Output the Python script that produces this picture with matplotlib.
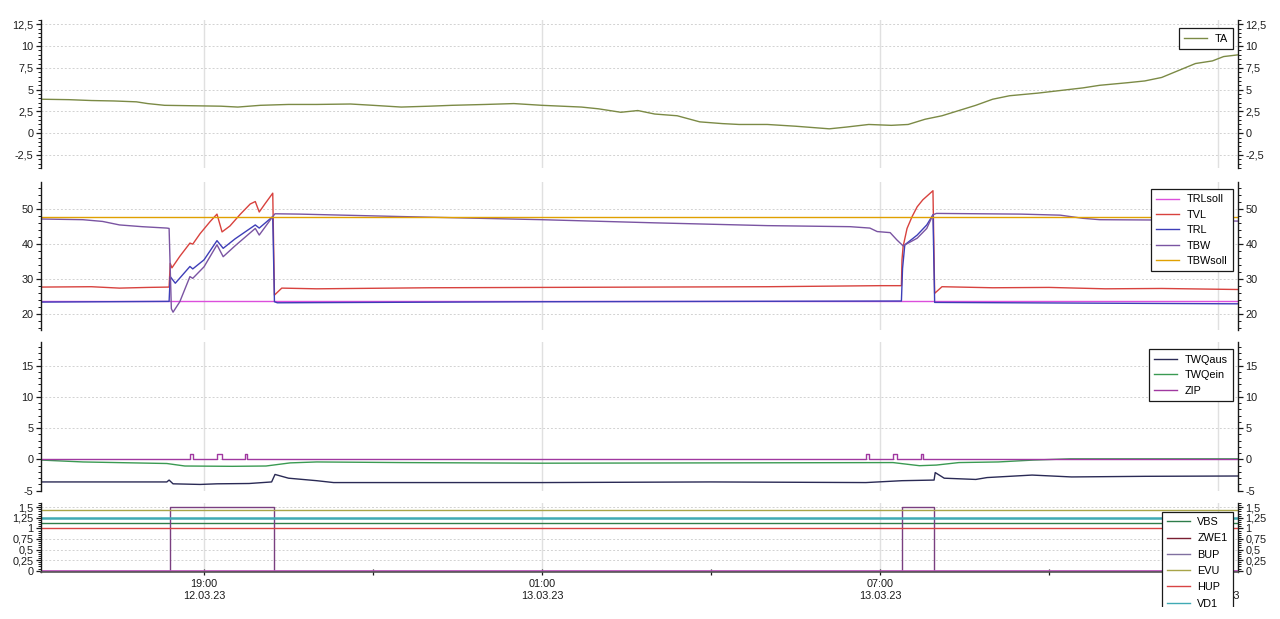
import numpy as np
import matplotlib
matplotlib.use('Agg')
import matplotlib.pyplot as plt
import matplotlib.dates as mdates
from matplotlib.ticker import MultipleLocator, FuncFormatter
from matplotlib.transforms import Bbox, TransformedBbox
from datetime import datetime

plt.rcParams['font.family'] = ['Liberation Sans', 'DejaVu Sans']
plt.rcParams['font.size'] = 7.8

# ---------------- data (time = hours since 12.03.23 00:00) ----------------
X_START, X_END = 16.106, 37.355

ta_t = [16.11, 16.6, 17.0, 17.4, 17.8, 18.0, 18.3, 18.8, 19.3, 19.6, 20.0, 20.5, 21.0, 21.6,
        22.0, 22.5, 23.0, 23.4, 24.0, 24.5, 25.0, 25.7, 26.0, 26.4, 26.7, 27.0, 27.4, 27.8,
        28.2, 28.5, 29.0, 29.5, 29.9, 30.1, 30.4, 30.8, 31.2, 31.5, 31.8, 32.1, 32.4, 32.7,
        33.0, 33.3, 33.8, 34.2, 34.6, 34.9, 35.4, 35.7, 36.0, 36.3, 36.6, 36.9, 37.1, 37.36]
ta_v = [3.9, 3.85, 3.75, 3.7, 3.6, 3.4, 3.2, 3.15, 3.1, 3.0, 3.2, 3.3, 3.3, 3.35,
        3.2, 3.0, 3.1, 3.2, 3.3, 3.4, 3.2, 3.0, 2.8, 2.4, 2.6, 2.2, 2.0, 1.3,
        1.1, 1.0, 1.0, 0.8, 0.6, 0.5, 0.7, 1.0, 0.9, 1.0, 1.6, 2.0, 2.6, 3.2,
        3.9, 4.3, 4.6, 4.9, 5.2, 5.5, 5.8, 6.0, 6.4, 7.2, 8.0, 8.3, 8.8, 9.0]

trlsoll_t = [16.11, 37.36]
trlsoll_v = [23.8, 23.8]
tbwsoll_t = [16.11, 37.36]
tbwsoll_v = [47.9, 47.9]

tvl_t = [16.11, 17.0, 17.5, 18.0, 18.38, 18.40, 18.43, 18.57, 18.75, 18.80, 18.93, 19.11, 19.23,
         19.32, 19.46, 19.64, 19.82, 19.91, 19.98, 20.08, 20.22, 20.25, 20.38, 21.0, 23.0, 25.0,
         27.0, 29.0, 31.0, 31.38, 31.39, 31.41, 31.48, 31.57, 31.66, 31.76, 31.94, 31.97, 32.10,
         33.0, 34.0, 35.0, 36.0, 37.36]
tvl_v = [27.7, 27.8, 27.4, 27.6, 27.7, 34.5, 33.2, 36.5, 40.3, 40.0, 43.0, 46.5, 48.6,
         43.5, 45.2, 48.5, 51.5, 52.2, 49.2, 51.5, 54.6, 25.4, 27.4, 27.2, 27.5, 27.6,
         27.7, 27.8, 28.1, 28.1, 35.5, 39.3, 44.5, 47.9, 50.7, 52.7, 55.3, 25.9, 27.8,
         27.5, 27.6, 27.2, 27.3, 27.0]

trl_t = [16.11, 18.38, 18.40, 18.49, 18.75, 18.80, 19.0, 19.23, 19.34, 19.55, 19.91, 19.98, 20.22,
         20.25, 20.30, 25.0, 31.38, 31.40, 31.44, 31.66, 31.83, 31.94, 31.97, 37.36]
trl_v = [23.4, 23.6, 30.7, 28.8, 33.6, 32.9, 35.5, 41.0, 38.8, 41.5, 45.5, 44.6, 47.9,
         23.5, 23.2, 23.5, 23.7, 33.0, 39.8, 42.6, 45.5, 48.4, 23.3, 22.9]

tbw_t = [16.11, 16.85, 17.2, 17.5, 17.9, 18.34, 18.38, 18.42, 18.45, 18.57, 18.75, 18.80, 19.0,
         19.23, 19.34, 19.55, 19.91, 19.98, 20.22, 20.26, 20.7, 22.5, 25.0, 27.0, 29.0, 30.47,
         30.82, 30.95, 31.18, 31.30, 31.41, 31.66, 31.83, 31.94, 32.0, 33.5, 34.2, 34.6, 34.9,
         36.0, 37.36]
tbw_v = [47.2, 47.0, 46.5, 45.5, 45.0, 44.6, 44.5, 21.5, 20.5, 23.5, 30.7, 30.2, 33.5,
         39.8, 36.4, 39.5, 44.5, 42.6, 47.9, 48.7, 48.6, 47.9, 47.0, 46.1, 45.3, 45.0,
         44.6, 43.6, 43.3, 41.2, 39.5, 41.7, 44.5, 48.4, 48.8, 48.6, 48.3, 47.4, 47.0,
         46.9, 46.6]

twqaus_t = [16.11, 18.34, 18.38, 18.45, 18.93, 19.23, 19.8, 20.2, 20.26, 20.5, 21.0, 21.3, 25.0,
            28.0, 30.75, 31.39, 31.96, 31.98, 32.14, 32.7, 32.9, 33.7, 34.4, 35.7, 37.36]
twqaus_v = [-3.6, -3.6, -3.3, -3.9, -4.0, -3.9, -3.85, -3.6, -2.4, -3.0, -3.4, -3.7, -3.7,
            -3.6, -3.7, -3.4, -3.3, -2.1, -3.0, -3.2, -2.9, -2.5, -2.8, -2.7, -2.65]

twqein_t = [16.11, 16.85, 18.34, 18.66, 19.5, 20.1, 20.53, 21.0, 22.5, 25.0, 28.0, 31.23, 31.7,
            32.0, 32.4, 33.1, 33.72, 34.37, 37.36]
twqein_v = [-0.1, -0.4, -0.65, -1.05, -1.1, -1.05, -0.55, -0.4, -0.5, -0.6, -0.55, -0.5, -1.0,
            -0.9, -0.5, -0.4, -0.1, 0.1, 0.1]

zip_on = [18.75, 19.23, 19.73, 30.75, 31.23, 31.73]
zip_off = [18.80, 19.32, 19.76, 30.81, 31.30, 31.76]
zip_level = 0.8

bup_on = [18.40, 31.39]
bup_off = [20.24, 31.96]
bup_level = 1.5

vbs_v = 1.12
zwe1_v = 0.0
evu_v = 1.43
hup_v = 1.01
vd1_v = 1.24

# ---------------- helpers ----------------
BASE = mdates.date2num(datetime(2023, 3, 12))


def tx(hours):
    return BASE + np.asarray(hours, dtype=float) / 24.0


def pulses(on, off, level):
    t, v = [X_START], [0.0]
    for a, b in zip(on, off):
        t += [a, a, b, b]
        v += [0.0, level, level, 0.0]
    t.append(X_END)
    v.append(0.0)
    return t, v


def fmt(v, pos):
    if abs(v) < 1e-9:
        return '0'
    s = f"{v:.2f}".rstrip('0').rstrip('.')
    return s.replace('.', ',')


fig = plt.figure(figsize=(12.8, 6.19), dpi=100)
L, W = 41 / 1280, 1197 / 1280
H = 619
ax1 = fig.add_axes([L, (H - 168) / H, W, 148 / H])
ax2 = fig.add_axes([L, (H - 330) / H, W, 148 / H], sharex=ax1)
ax3 = fig.add_axes([L, (H - 491) / H, W, 149 / H], sharex=ax1)
ax4 = fig.add_axes([L, (H - 572) / H, W, 69 / H], sharex=ax1)

TXT = '#1a1a1a'
FS = 7.8


def style(ax, major, minor, ylim, bottom=False):
    ax.set_ylim(*ylim)
    ax.yaxis.set_major_locator(MultipleLocator(major))
    ax.yaxis.set_minor_locator(MultipleLocator(minor))
    ax.yaxis.set_major_formatter(FuncFormatter(fmt))
    ax.tick_params(axis='y', which='both', left=True, right=True, labelleft=True,
                   labelright=True, direction='out', colors=TXT, labelsize=FS)
    ax.tick_params(axis='y', which='major', length=3.5, width=0.9, pad=2)
    ax.tick_params(axis='y', which='minor', length=2, width=0.7)
    ax.spines['top'].set_visible(False)
    ax.spines['bottom'].set_visible(bottom)
    for s in ['left', 'right']:
        ax.spines[s].set_color(TXT)
        ax.spines[s].set_linewidth(1.0)
    ax.spines['bottom'].set_color('#555555')
    ax.spines['bottom'].set_linewidth(1.2)
    ax.grid(True, axis='y', which='major', color='#d2d2d2', lw=0.7, ls=(0, (2, 2)))
    ax.grid(True, axis='x', which='major', color='#e0e0e0', lw=1.0)
    ax.set_axisbelow(True)
    ax.set_facecolor('white')


LW = 1.0
# panel 1
ax1.plot(tx(ta_t), ta_v, color='#7b8a45', lw=LW, label='TA')
# panel 2
ax2.plot(tx(trlsoll_t), trlsoll_v, color='#dc4fdc', lw=LW, label='TRLsoll')
ax2.plot(tx(tvl_t), tvl_v, color='#d8423e', lw=LW, label='TVL')
ax2.plot(tx(trl_t), trl_v, color='#3e3eb8', lw=LW, label='TRL')
ax2.plot(tx(tbw_t), tbw_v, color='#7a54a2', lw=LW, label='TBW')
ax2.plot(tx(tbwsoll_t), tbwsoll_v, color='#e0a000', lw=LW, label='TBWsoll')
# panel 3
ax3.plot(tx(twqaus_t), twqaus_v, color='#2a2a55', lw=LW, label='TWQaus')
ax3.plot(tx(twqein_t), twqein_v, color='#3a9a52', lw=LW, label='TWQein')
zt, zv = pulses(zip_on, zip_off, zip_level)
ax3.plot(tx(zt), zv, color='#a038a0', lw=LW, label='ZIP')
# panel 4
span = tx([X_START, X_END])
ax4.plot(span, [vbs_v] * 2, color='#2e7d4a', lw=LW, label='VBS')
ax4.plot(span, [zwe1_v] * 2, color='#7a1e32', lw=LW, label='ZWE1')
bt, bv = pulses(bup_on, bup_off, bup_level)
ax4.plot(tx(bt), bv, color='#7a3f80', lw=LW, label='BUP')
ax4.plot(span, [evu_v] * 2, color='#a8a448', lw=LW, label='EVU')
ax4.plot(span, [hup_v] * 2, color='#d84444', lw=LW, label='HUP')
ax4.plot(span, [vd1_v] * 2, color='#40aab4', lw=1.8, label='VD1')
ax4.plot(span, [zwe1_v] * 2, color='#c055c0', lw=1.2)

style(ax1, 2.5, 0.5, (-4.0, 13.0))
style(ax2, 10, 2, (15.4, 57.8))
style(ax3, 5, 1, (-5.05, 18.8))
style(ax4, 0.25, 0.05, (-0.03, 1.6), bottom=True)

ax1.set_xlim(tx(X_START), tx(X_END))
ax4.xaxis.set_major_locator(mdates.HourLocator(byhour=[1, 7, 13, 19]))
ax4.xaxis.set_minor_locator(mdates.HourLocator(byhour=[4, 10, 16, 22]))
ax4.xaxis.set_major_formatter(mdates.DateFormatter('%H:%M\n%d.%m.%y'))
for ax in (ax1, ax2, ax3):
    ax.tick_params(axis='x', which='both', bottom=False, labelbottom=False)
ax4.tick_params(axis='x', which='both', direction='inout', length=5, width=0.9,
                colors=TXT, labelsize=FS, pad=2.5)


def legend(ax, top, spacing=0.5):
    leg = ax.legend(loc='upper right', bbox_to_anchor=(0.9958, top), borderaxespad=0,
                    fancybox=False, framealpha=1, edgecolor=TXT, handlelength=2.1,
                    handletextpad=0.7, labelspacing=spacing, borderpad=0.5, fontsize=FS)
    leg.get_frame().set_linewidth(0.9)
    for ln in leg.get_lines():
        ln.set_linewidth(1.0)
    return leg


legend(ax1, 0.944)
legend(ax2, 0.953)
legend(ax3, 0.951)
leg4 = legend(ax4, 0.874, spacing=0.58)
leg4.get_lines()[2].set_color('#8070a0')
clip = TransformedBbox(Bbox([[0, 12 / H], [1, 1]]), fig.transFigure)
for a in leg4.findobj():
    a.set_clip_box(clip)
    a.set_clip_on(True)

fig.savefig('out.png', dpi=100, facecolor='white')
